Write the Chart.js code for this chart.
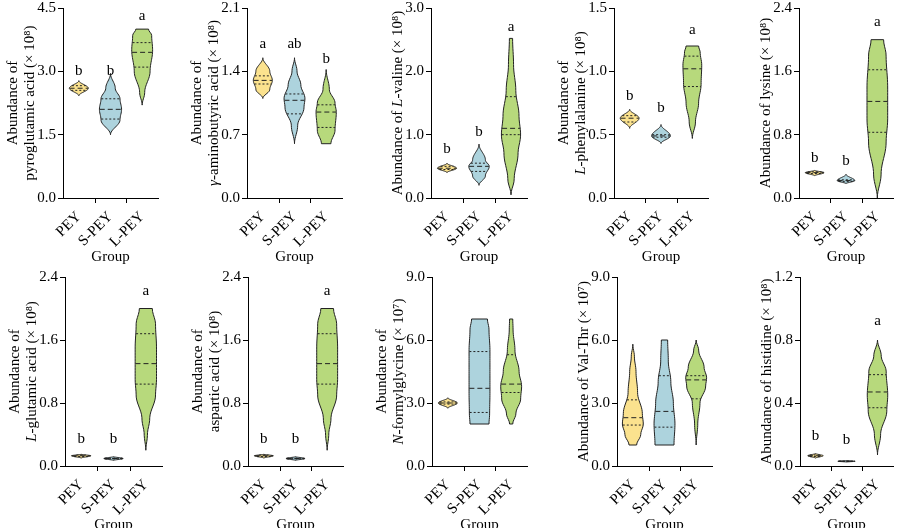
<!DOCTYPE html>
<html>
<head>
<meta charset="utf-8">
<script src="https://cdn.jsdelivr.net/npm/chart.js@4"></script>
<style>
  body { margin: 0; background: #fff; width: 900px; height: 528px; position: relative; overflow: hidden; }
  canvas { position: absolute; }
</style>
</head>
<body>
<script>
const groups = ['PEY', 'S-PEY', 'L-PEY'];
const groupColors = ['#fbe28e', '#add3dd', '#b7d97c'];
const yMax = [4.5, 2.1, 3.0, 1.5, 2.4, 2.4, 2.4, 9.0, 9.0, 1.2];
// y title lines: each segment [text, italic]
const yTitles = [
    [[['Abundance of', false]], [['pyroglutamic acid (× 10⁸)', false]]],
    [[['Abundance of', false]], [['γ', true], ['-aminobutyric acid (× 10⁸)', false]]],
    [[['Abundance of ', false], ['L', true], ['-valine (× 10⁸)', false]]],
    [[['Abundance of', false]], [['L', true], ['-phenylalanine (× 10⁸)', false]]],
    [[['Abundance of lysine (× 10⁸)', false]]],
    [[['Abundance of', false]], [['L', true], ['-glutamic acid (× 10⁸)', false]]],
    [[['Abundance of', false]], [['aspartic acid (× 10⁸)', false]]],
    [[['Abundance of', false]], [['N', true], ['-formylglycine (× 10⁷)', false]]],
    [[['Abundance of Val-Thr (× 10⁷)', false]]],
    [[['Abundance of histidine (× 10⁸)', false]]]
];
const letters = [
    ['b', 'b', 'a'], ['a', 'ab', 'b'], ['b', 'b', 'a'], ['b', 'b', 'a'], ['b', 'b', 'a'],
    ['b', 'b', 'a'], ['b', 'b', 'a'], ['', '', ''], ['', '', ''], ['b', 'b', 'a']
];
const letterY = [
    [2.92, 2.92, 4.22], [1.66, 1.66, 1.5], [0.72, 0.98, 2.65], [0.78, 0.68, 1.3], [0.46, 0.42, 2.18],
    [0.3, 0.3, 2.18], [0.3, 0.3, 2.18], [0, 0, 0], [0, 0, 0], [0.17, 0.14, 0.9]
];
// violin profiles: y levels, half widths (x units), quartiles
const violins = [
    [ { y: [2.42, 2.6, 2.78], w: [0, 0.3, 0], q: [2.55, 2.6, 2.66] },
      { y: [1.5, 1.85, 2.1, 2.35, 2.6, 2.95], w: [0, 0.3, 0.35, 0.3, 0.15, 0], q: [1.87, 2.1, 2.35] },
      { y: [2.2, 2.5, 3.0, 3.5, 3.85, 4.0], w: [0, 0.08, 0.25, 0.33, 0.3, 0.2], q: [3.1, 3.45, 3.68] } ],
    [ { y: [1.1, 1.2, 1.3, 1.4, 1.55], w: [0, 0.22, 0.3, 0.22, 0], q: [1.26, 1.3, 1.35] },
      { y: [0.6, 0.8, 1.0, 1.1, 1.25, 1.4, 1.55], w: [0, 0.1, 0.3, 0.33, 0.2, 0.08, 0], q: [0.93, 1.08, 1.15] },
      { y: [0.6, 0.75, 0.95, 1.05, 1.2, 1.42], w: [0.15, 0.28, 0.32, 0.28, 0.1, 0], q: [0.78, 0.95, 1.03] } ],
    [ { y: [0.4, 0.47, 0.55], w: [0, 0.3, 0], q: [0.45, 0.47, 0.5] },
      { y: [0.2, 0.35, 0.5, 0.6, 0.85], w: [0, 0.2, 0.32, 0.2, 0], q: [0.42, 0.5, 0.55] },
      { y: [0.05, 0.3, 0.7, 1.0, 1.3, 1.7, 2.1, 2.52], w: [0, 0.1, 0.22, 0.3, 0.25, 0.15, 0.08, 0.05], q: [1.0, 1.1, 1.6] } ],
    [ { y: [0.55, 0.63, 0.7], w: [0, 0.3, 0], q: [0.6, 0.63, 0.65] },
      { y: [0.43, 0.49, 0.58], w: [0, 0.3, 0], q: [0.48, 0.49, 0.5] },
      { y: [0.47, 0.6, 0.75, 0.9, 1.05, 1.15, 1.2], w: [0, 0.1, 0.2, 0.28, 0.3, 0.25, 0.2], q: [0.88, 1.02, 1.12] } ],
    [ { y: [0.28, 0.32, 0.35], w: [0, 0.3, 0], q: [0.31, 0.32, 0.33] },
      { y: [0.18, 0.22, 0.3], w: [0, 0.28, 0], q: [0.21, 0.22, 0.23] },
      { y: [0, 0.3, 0.7, 1.0, 1.4, 1.8, 2.0], w: [0, 0.12, 0.28, 0.33, 0.33, 0.28, 0.2], q: [0.83, 1.22, 1.62] } ],
    [ { y: [0.1, 0.13, 0.15], w: [0, 0.3, 0], q: [0.12, 0.13, 0.14] },
      { y: [0.07, 0.095, 0.12], w: [0, 0.3, 0], q: [0.09, 0.095, 0.1] },
      { y: [0.2, 0.4, 0.6, 0.9, 1.1, 1.5, 1.8, 2.0], w: [0, 0.05, 0.12, 0.3, 0.33, 0.33, 0.3, 0.2], q: [1.04, 1.3, 1.68] } ],
    [ { y: [0.1, 0.13, 0.15], w: [0, 0.3, 0], q: [0.12, 0.13, 0.14] },
      { y: [0.07, 0.095, 0.12], w: [0, 0.3, 0], q: [0.09, 0.095, 0.1] },
      { y: [0.2, 0.4, 0.6, 0.9, 1.1, 1.5, 1.8, 2.0], w: [0, 0.05, 0.12, 0.3, 0.33, 0.33, 0.3, 0.2], q: [1.04, 1.3, 1.68] } ],
    [ { y: [2.75, 3.0, 3.25], w: [0, 0.3, 0], q: [2.95, 3.0, 3.05] },
      { y: [2.0, 2.5, 3.5, 4.5, 5.5, 6.5, 7.0], w: [0.3, 0.32, 0.33, 0.33, 0.33, 0.3, 0.25], q: [2.55, 3.7, 5.45] },
      { y: [2.0, 2.5, 3.2, 3.8, 4.5, 5.5, 6.5, 7.0], w: [0.05, 0.15, 0.3, 0.33, 0.25, 0.12, 0.06, 0.05], q: [3.5, 3.9, 5.3] } ],
    [ { y: [1.0, 1.5, 2.0, 2.5, 3.5, 4.5, 5.2, 5.8], w: [0.12, 0.25, 0.33, 0.3, 0.15, 0.1, 0.05, 0], q: [1.95, 2.3, 3.15] },
      { y: [1.0, 2.0, 3.0, 4.0, 5.0, 6.0], w: [0.3, 0.33, 0.28, 0.2, 0.12, 0.1], q: [1.85, 2.6, 4.3] },
      { y: [1.0, 2.0, 3.0, 3.8, 4.2, 4.7, 5.5, 6.0], w: [0, 0.05, 0.12, 0.3, 0.33, 0.25, 0.08, 0], q: [3.2, 4.1, 4.3] } ],
    [ { y: [0.05, 0.065, 0.08], w: [0, 0.25, 0], q: [0.06, 0.065, 0.07] },
      { y: [0.025, 0.03, 0.035], w: [0, 0.28, 0], q: [0.029, 0.03, 0.031] },
      { y: [0.07, 0.2, 0.35, 0.45, 0.6, 0.7, 0.8], w: [0, 0.1, 0.3, 0.33, 0.28, 0.12, 0], q: [0.37, 0.47, 0.58] } ]
];

// plot-area placement in page pixels
const axisLeft = [63, 247, 431, 614, 799, 65, 248, 432, 617, 800];
const axisRight = [158, 342, 527, 708, 893, 162, 343, 527, 712, 893];
const axisTop = [7, 7, 7, 7, 7, 276, 276, 276, 276, 276];
const axisBottom = [198, 198, 198, 198, 198, 466, 466, 466, 466, 466];

const FONT = '"Liberation Serif", "DejaVu Serif", serif';
const LEFT_W = 66, BOTTOM_H = 68, PAD_T = 10, PAD_R = 4;

function linW(v, y) {
    if (y <= v.y[0]) return v.w[0];
    for (let i = 1; i < v.y.length; i++) {
        if (y <= v.y[i]) {
            const t = (y - v.y[i - 1]) / (v.y[i] - v.y[i - 1]);
            return v.w[i - 1] + (v.w[i] - v.w[i - 1]) * t;
        }
    }
    return v.w[v.w.length - 1];
}
function smoothW(v, y) {
    if (y <= v.y[0]) return v.w[0];
    for (let i = 1; i < v.y.length; i++) {
        if (y <= v.y[i]) {
            const t = (y - v.y[i - 1]) / (v.y[i] - v.y[i - 1]);
            const s = (1 - Math.cos(Math.PI * t)) / 2;
            return v.w[i - 1] + (v.w[i] - v.w[i - 1]) * s;
        }
    }
    return v.w[v.w.length - 1];
}

const violinPlugin = {
    id: 'violins',
    afterDraw(chart) {
        const idx = chart.options.plugins.violins.panel;
        const ctx = chart.ctx, xs = chart.scales.x, ys = chart.scales.y;
        const area = chart.chartArea;
        ctx.save();
        // x tick marks between groups
        ctx.strokeStyle = '#000'; ctx.lineWidth = 1;
        [1.5, 2.5].forEach(v => {
            const px = Math.round(xs.getPixelForValue(v)) + 0.5;
            ctx.beginPath(); ctx.moveTo(px, area.bottom); ctx.lineTo(px, area.bottom + 5); ctx.stroke();
        });
        violins[idx].forEach((v, g) => {
            const c = g + 1;
            const lo = v.y[0], hi = v.y[v.y.length - 1], n = 48;
            const pts = [];
            for (let i = 0; i <= n; i++) { const y = lo + (hi - lo) * i / n; pts.push([y, smoothW(v, y)]); }
            ctx.beginPath();
            pts.forEach(([y, w], i) => {
                const px = xs.getPixelForValue(c - w), py = ys.getPixelForValue(y);
                i ? ctx.lineTo(px, py) : ctx.moveTo(px, py);
            });
            for (let i = pts.length - 1; i >= 0; i--) {
                const [y, w] = pts[i];
                ctx.lineTo(xs.getPixelForValue(c + w), ys.getPixelForValue(y));
            }
            ctx.closePath();
            ctx.fillStyle = groupColors[g]; ctx.fill();
            ctx.strokeStyle = '#222'; ctx.lineWidth = 1; ctx.stroke();
            v.q.forEach((q, k) => {
                const w = smoothW(v, q) * 0.97;
                const py = ys.getPixelForValue(q);
                ctx.setLineDash(k === 1 ? [5, 3] : [2, 2]);
                ctx.beginPath();
                ctx.moveTo(xs.getPixelForValue(c - w), py);
                ctx.lineTo(xs.getPixelForValue(c + w), py);
                ctx.stroke();
            });
            ctx.setLineDash([]);
            if (letters[idx][g]) {
                ctx.fillStyle = '#000'; ctx.font = '15px ' + FONT;
                ctx.textAlign = 'center'; ctx.textBaseline = 'bottom';
                ctx.fillText(letters[idx][g], xs.getPixelForValue(c), ys.getPixelForValue(letterY[idx][g]) + 4);
            }
        });
        // y axis title (rotated, with italic parts)
        const lines = yTitles[idx];
        const offs = lines.length === 2 ? [-50, -33] : [-33];
        lines.forEach((segs, li) => {
            ctx.save();
            ctx.translate(area.left + offs[li], (area.top + area.bottom) / 2);
            ctx.rotate(-Math.PI / 2);
            ctx.fillStyle = '#000'; ctx.textBaseline = 'middle'; ctx.textAlign = 'left';
            const fonts = segs.map(s => (s[1] ? 'italic ' : '') + '15px ' + FONT);
            let total = 0;
            segs.forEach((s, i) => { ctx.font = fonts[i]; total += ctx.measureText(s[0]).width; });
            let x = -total / 2;
            segs.forEach((s, i) => { ctx.font = fonts[i]; ctx.fillText(s[0], x, 0); x += ctx.measureText(s[0]).width; });
            ctx.restore();
        });
        ctx.restore();
    }
};

for (let i = 0; i < 10; i++) {
    const cv = document.createElement('canvas');
    const w = axisRight[i] - axisLeft[i] + LEFT_W + PAD_R;
    const h = axisBottom[i] - axisTop[i] + BOTTOM_H + PAD_T;
    cv.style.left = (axisLeft[i] - LEFT_W) + 'px';
    cv.style.top = (axisTop[i] - PAD_T) + 'px';
    cv.style.width = w + 'px'; cv.style.height = h + 'px';
    cv.width = w; cv.height = h;
    document.body.appendChild(cv);
    new Chart(cv, {
        type: 'scatter',
        data: { datasets: [] },
        plugins: [violinPlugin],
        options: {
            responsive: false, animation: false, devicePixelRatio: 1,
            layout: { padding: { top: PAD_T, right: PAD_R, left: 0, bottom: 0 } },
            plugins: { legend: { display: false }, tooltip: { enabled: false }, violins: { panel: i } },
            scales: {
                x: {
                    type: 'linear', min: 0.5, max: 3.5,
                    afterBuildTicks: s => { s.ticks = [{ value: 1 }, { value: 2 }, { value: 3 }]; },
                    afterFit: s => { s.height = BOTTOM_H; },
                    grid: { display: false },
                    border: { display: true, color: '#000', width: 1 },
                    ticks: {
                        color: '#000', font: { family: FONT, size: 15 }, minRotation: 45, maxRotation: 45,
                        padding: 2, callback: v => groups[v - 1] || ''
                    },
                    title: { display: true, text: 'Group', color: '#000', font: { family: FONT, size: 15 }, padding: 0 }
                },
                y: {
                    type: 'linear', min: 0, max: yMax[i],
                    afterBuildTicks: s => { s.ticks = [0, 1, 2, 3].map(k => ({ value: yMax[i] * k / 3 })); },
                    afterFit: s => { s.width = LEFT_W; },
                    grid: { drawOnChartArea: false, tickLength: 5, color: '#000' },
                    border: { display: true, color: '#000', width: 1 },
                    ticks: { color: '#000', font: { family: FONT, size: 15 }, padding: 2, callback: v => v.toFixed(1) }
                }
            }
        }
    });
}
</script>
</body>
</html>
